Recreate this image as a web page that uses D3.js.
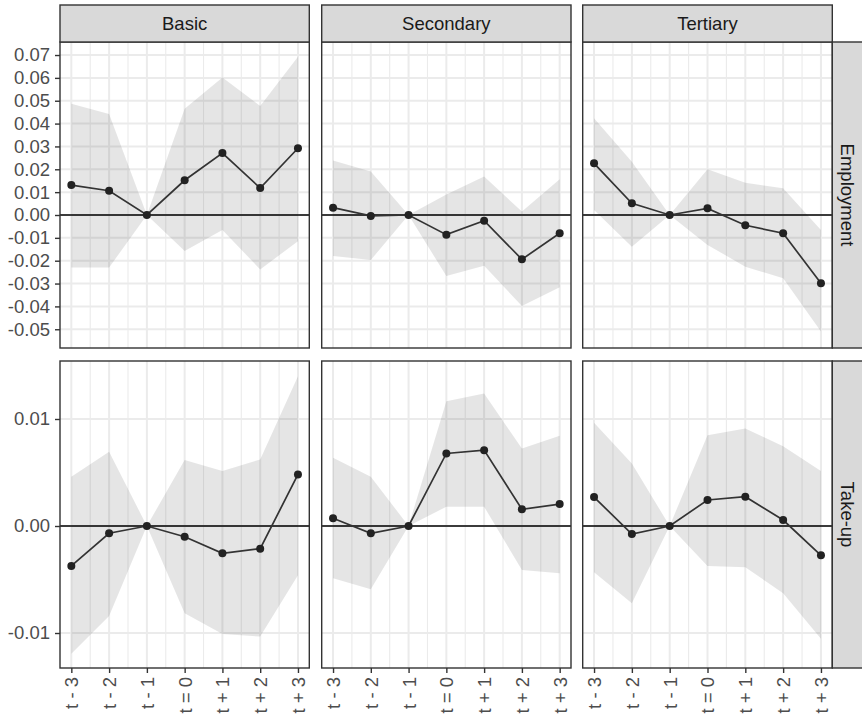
<!DOCTYPE html>
<html>
<head>
<meta charset="utf-8">
<script src="https://cdn.jsdelivr.net/npm/d3@7"></script>
<style>
  body { margin: 0; background: #ffffff; }
  svg { display: block; font-family: "Liberation Sans", Arial, sans-serif; }
</style>
</head>
<body>
<svg id="chart" width="862" height="718"></svg>
<script>
// ---------------- DATA ----------------
const periods = ["t - 3", "t - 2", "t - 1", "t = 0", "t + 1", "t + 2", "t + 3"];
const educationLevels = ["Basic", "Secondary", "Tertiary"];
const outcomes = ["Employment", "Take-up"];

// Employment
const employmentBasicEst   = [0.0131, 0.0106, 0.0000, 0.0152, 0.0271, 0.0118, 0.0292];
const employmentBasicLower = [-0.0230, -0.0230, 0.0000, -0.0157, -0.0066, -0.0238, -0.0115];
const employmentBasicUpper = [0.0487, 0.0442, 0.0000, 0.0465, 0.0602, 0.0477, 0.0693];

const employmentSecondaryEst   = [0.0032, -0.0004, 0.0000, -0.0086, -0.0025, -0.0194, -0.0080];
const employmentSecondaryLower = [-0.0179, -0.0197, 0.0000, -0.0267, -0.0222, -0.0398, -0.0316];
const employmentSecondaryUpper = [0.0238, 0.0190, 0.0000, 0.0090, 0.0168, 0.0015, 0.0156];

const employmentTertiaryEst   = [0.0226, 0.0051, 0.0000, 0.0029, -0.0045, -0.0080, -0.0299];
const employmentTertiaryLower = [0.0022, -0.0139, 0.0000, -0.0131, -0.0226, -0.0277, -0.0510];
const employmentTertiaryUpper = [0.0423, 0.0233, 0.0000, 0.0200, 0.0141, 0.0117, -0.0066];

// Take-up
const takeupBasicEst   = [-0.00373, -0.00068, 0.0000, -0.00100, -0.00255, -0.00212, 0.00482];
const takeupBasicLower = [-0.01194, -0.00840, 0.0000, -0.00815, -0.01010, -0.01033, -0.00460];
const takeupBasicUpper = [0.00460, 0.00694, 0.0000, 0.00616, 0.00513, 0.00622, 0.01400];

const takeupSecondaryEst   = [0.00072, -0.00068, 0.0000, 0.00678, 0.00709, 0.00156, 0.00205];
const takeupSecondaryLower = [-0.00488, -0.00590, 0.0000, 0.00180, 0.00180, -0.00410, -0.00442];
const takeupSecondaryUpper = [0.00638, 0.00460, 0.0000, 0.01166, 0.01238, 0.00725, 0.00843];

const takeupTertiaryEst   = [0.00270, -0.00075, 0.0000, 0.00243, 0.00274, 0.00056, -0.00274];
const takeupTertiaryLower = [-0.00432, -0.00722, 0.0000, -0.00373, -0.00386, -0.00628, -0.01054];
const takeupTertiaryUpper = [0.00964, 0.00585, 0.0000, 0.00849, 0.00911, 0.00746, 0.00513];

// Axis ticks
const yTicksEmployment = [-0.05, -0.04, -0.03, -0.02, -0.01, 0.00, 0.01, 0.02, 0.03, 0.04, 0.05, 0.06, 0.07];
const yTicksTakeup = [-0.01, 0.00, 0.01];
const yDomainEmployment = [-0.0582, 0.0757];
const yDomainTakeup = [-0.01327, 0.01542];

// Build the panel table
const panelData = {
  "Employment": {
    "Basic":     { est: employmentBasicEst, lo: employmentBasicLower, hi: employmentBasicUpper },
    "Secondary": { est: employmentSecondaryEst, lo: employmentSecondaryLower, hi: employmentSecondaryUpper },
    "Tertiary":  { est: employmentTertiaryEst, lo: employmentTertiaryLower, hi: employmentTertiaryUpper }
  },
  "Take-up": {
    "Basic":     { est: takeupBasicEst, lo: takeupBasicLower, hi: takeupBasicUpper },
    "Secondary": { est: takeupSecondaryEst, lo: takeupSecondaryLower, hi: takeupSecondaryUpper },
    "Tertiary":  { est: takeupTertiaryEst, lo: takeupTertiaryLower, hi: takeupTertiaryUpper }
  }
};
const rowTicks = { "Employment": yTicksEmployment, "Take-up": yTicksTakeup };
const rowDomains = { "Employment": yDomainEmployment, "Take-up": yDomainTakeup };

// ---------------- LAYOUT ----------------
const svg = d3.select("#chart");
const colX = [[60, 309.3], [321.7, 571], [582.7, 832.3]];
const rowY = [[42, 348], [361, 668]];
const stripTop = 5;
const rightStripEnd = 862;
const fontSize = 18.5;

const fmt = d3.formatLocale({ decimal: ".", thousands: ",", grouping: [3], currency: ["", ""], minus: "-" }).format(".2f");

const xScaleFor = (c) => d3.scaleLinear().domain([-0.3, periods.length - 1 + 0.3]).range(colX[c]);

outcomes.forEach((outcome, r) => {
  const [y0, y1] = rowY[r];
  const y = d3.scaleLinear().domain(rowDomains[outcome]).range([y1, y0]);
  const ticks = rowTicks[outcome];

  educationLevels.forEach((level, c) => {
    const x = xScaleFor(c);
    const [x0, x1] = colX[c];
    const g = svg.append("g");
    const d = panelData[outcome][level];
    const pts = periods.map((p, i) => ({ i, est: d.est[i], lo: d.lo[i], hi: d.hi[i] }));

    // background
    g.append("rect").attr("x", x0).attr("y", y0).attr("width", x1 - x0).attr("height", y1 - y0).attr("fill", "#ffffff");

    // minor vertical grid
    const minor = d3.range(0.5, periods.length - 1, 1);
    g.selectAll(".vminor").data(minor).join("line")
      .attr("x1", v => x(v)).attr("x2", v => x(v)).attr("y1", y0).attr("y2", y1)
      .attr("stroke", "#ebebeb").attr("stroke-width", 1.1);
    // major vertical grid
    g.selectAll(".vmajor").data(periods.map((p, i) => i)).join("line")
      .attr("x1", v => x(v)).attr("x2", v => x(v)).attr("y1", y0).attr("y2", y1)
      .attr("stroke", "#ebebeb").attr("stroke-width", 2);
    // horizontal grid
    g.selectAll(".hmajor").data(ticks).join("line")
      .attr("x1", x0).attr("x2", x1).attr("y1", v => y(v)).attr("y2", v => y(v))
      .attr("stroke", "#ebebeb").attr("stroke-width", 2);

    // ribbon
    const area = d3.area().x(p => x(p.i)).y0(p => y(p.lo)).y1(p => y(p.hi));
    g.append("path").datum(pts).attr("d", area).attr("fill", "#000000").attr("fill-opacity", 0.1);

    // zero line
    g.append("line").attr("x1", x0).attr("x2", x1).attr("y1", y(0)).attr("y2", y(0))
      .attr("stroke", "#000000").attr("stroke-width", 1.6);

    // estimate line
    const line = d3.line().x(p => x(p.i)).y(p => y(p.est));
    g.append("path").datum(pts).attr("d", line).attr("fill", "none")
      .attr("stroke", "#333333").attr("stroke-width", 1.7);

    // points
    g.selectAll(".pt").data(pts).join("circle")
      .attr("cx", p => x(p.i)).attr("cy", p => y(p.est)).attr("r", 4)
      .attr("fill", "#222222");

    // border
    g.append("rect").attr("x", x0).attr("y", y0).attr("width", x1 - x0).attr("height", y1 - y0)
      .attr("fill", "none").attr("stroke", "#333333").attr("stroke-width", 1.4);

    // top strip
    if (r === 0) {
      g.append("rect").attr("x", x0).attr("y", stripTop).attr("width", x1 - x0).attr("height", y0 - stripTop)
        .attr("fill", "#d9d9d9").attr("stroke", "#333333").attr("stroke-width", 1.4);
      g.append("text").attr("x", (x0 + x1) / 2).attr("y", (stripTop + y0) / 2)
        .attr("text-anchor", "middle").attr("dy", "0.35em")
        .attr("font-size", fontSize).attr("fill", "#1a1a1a").text(level);
    }

    // y axis on first column
    if (c === 0) {
      const yAxis = d3.axisLeft(y).tickValues(ticks).tickFormat(fmt).tickSize(5).tickPadding(5);
      const ag = svg.append("g").attr("transform", `translate(${x0},0)`).call(yAxis);
      ag.select(".domain").remove();
      ag.selectAll(".tick line").attr("stroke", "#333333").attr("stroke-width", 1.4);
      ag.selectAll(".tick text").attr("font-size", fontSize).attr("fill", "#4d4d4d")
        .attr("font-family", "Liberation Sans, Arial, sans-serif");
    }

    // x axis on bottom row
    if (r === outcomes.length - 1) {
      const xAxis = d3.axisBottom(x).tickValues(periods.map((p, i) => i))
        .tickFormat(i => periods[i]).tickSize(5).tickPadding(5);
      const ag = svg.append("g").attr("transform", `translate(0,${y1})`).call(xAxis);
      ag.select(".domain").remove();
      ag.selectAll(".tick line").attr("stroke", "#333333").attr("stroke-width", 1.4);
      ag.selectAll(".tick text")
        .attr("font-size", fontSize).attr("fill", "#4d4d4d")
        .attr("font-family", "Liberation Sans, Arial, sans-serif")
        .attr("text-anchor", "end")
        .attr("transform", "rotate(-90)")
        .attr("x", -9).attr("y", 0).attr("dy", "0.35em");
    }
  });

  // right strip
  const sx0 = colX[colX.length - 1][1];
  svg.append("rect").attr("x", sx0).attr("y", y0).attr("width", rightStripEnd - sx0 + 2).attr("height", y1 - y0)
    .attr("fill", "#d9d9d9").attr("stroke", "#333333").attr("stroke-width", 1.4);
  const cx = (sx0 + rightStripEnd) / 2;
  const cy = (y0 + y1) / 2;
  svg.append("text").attr("transform", `translate(${cx},${cy}) rotate(90)`)
    .attr("text-anchor", "middle").attr("dy", "0.35em")
    .attr("font-size", fontSize).attr("fill", "#1a1a1a").text(outcome);
});
</script>
</body>
</html>
